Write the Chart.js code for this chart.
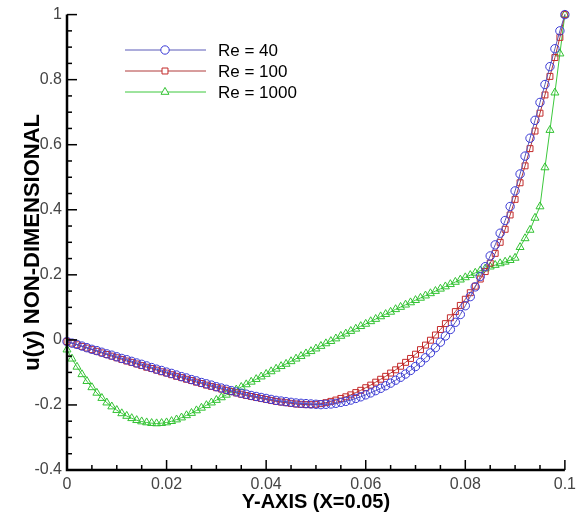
<!DOCTYPE html>
<html>
<head>
<meta charset="utf-8">
<script src="https://cdn.jsdelivr.net/npm/chart.js@4.4.1/dist/chart.umd.min.js"></script>
<style>
    html, body { margin: 0; padding: 0; background: #fff; }
    #wrap { width: 581px; height: 517px; position: relative; }
</style>
</head>
<body>
<div id="wrap"><canvas id="velocityChart"></canvas></div>
<script>
// y positions along the line X=0.05
const yPos = [
    0.000, 0.001, 0.002, 0.003, 0.004, 0.005, 0.006, 0.007, 0.008, 0.009,
    0.010, 0.011, 0.012, 0.013, 0.014, 0.015, 0.016, 0.017, 0.018, 0.019,
    0.020, 0.021, 0.022, 0.023, 0.024, 0.025, 0.026, 0.027, 0.028, 0.029,
    0.030, 0.031, 0.032, 0.033, 0.034, 0.035, 0.036, 0.037, 0.038, 0.039,
    0.040, 0.041, 0.042, 0.043, 0.044, 0.045, 0.046, 0.047, 0.048, 0.049,
    0.050, 0.051, 0.052, 0.053, 0.054, 0.055, 0.056, 0.057, 0.058, 0.059,
    0.060, 0.061, 0.062, 0.063, 0.064, 0.065, 0.066, 0.067, 0.068, 0.069,
    0.070, 0.071, 0.072, 0.073, 0.074, 0.075, 0.076, 0.077, 0.078, 0.079,
    0.080, 0.081, 0.082, 0.083, 0.084, 0.085, 0.086, 0.087, 0.088, 0.089,
    0.090, 0.091, 0.092, 0.093, 0.094, 0.095, 0.096, 0.097, 0.098, 0.099,
    0.100
];

const re40 = [
    -0.005, -0.010, -0.014, -0.019, -0.024, -0.029, -0.033, -0.038, -0.043, -0.047,
    -0.052, -0.057, -0.061, -0.066, -0.071, -0.075, -0.080, -0.085, -0.090, -0.094,
    -0.099, -0.103, -0.108, -0.113, -0.117, -0.122, -0.126, -0.131, -0.135, -0.139,
    -0.144, -0.148, -0.152, -0.156, -0.160, -0.164, -0.167, -0.171, -0.174, -0.177,
    -0.180, -0.183, -0.186, -0.188, -0.190, -0.192, -0.194, -0.195, -0.196, -0.197,
    -0.198, -0.199, -0.198, -0.197, -0.195, -0.192, -0.189, -0.185, -0.180, -0.175,
    -0.169, -0.163, -0.156, -0.149, -0.141, -0.133, -0.124, -0.115, -0.105, -0.094,
    -0.082, -0.069, -0.055, -0.040, -0.024, -0.007, 0.012, 0.032, 0.054, 0.078,
    0.105, 0.133, 0.163, 0.195, 0.225, 0.258, 0.292, 0.328, 0.367, 0.410,
    0.458, 0.510, 0.565, 0.620, 0.675, 0.730, 0.785, 0.840, 0.895, 0.950,
    1.000
];

const re100 = [
    -0.005, -0.010, -0.015, -0.020, -0.025, -0.030, -0.035, -0.040, -0.045, -0.050,
    -0.055, -0.060, -0.065, -0.069, -0.074, -0.079, -0.084, -0.088, -0.093, -0.098,
    -0.102, -0.107, -0.112, -0.116, -0.121, -0.125, -0.130, -0.134, -0.139, -0.143,
    -0.147, -0.151, -0.155, -0.159, -0.163, -0.167, -0.171, -0.174, -0.177, -0.180,
    -0.183, -0.186, -0.189, -0.191, -0.193, -0.195, -0.197, -0.198, -0.199, -0.199,
    -0.198, -0.196, -0.193, -0.189, -0.185, -0.180, -0.175, -0.169, -0.162, -0.155,
    -0.147, -0.139, -0.130, -0.121, -0.112, -0.102, -0.092, -0.081, -0.069, -0.057,
    -0.044, -0.030, -0.016, -0.001, 0.015, 0.032, 0.050, 0.068, 0.087, 0.106,
    0.125, 0.145, 0.165, 0.187, 0.210, 0.236, 0.266, 0.300, 0.340, 0.384,
    0.432, 0.483, 0.535, 0.588, 0.642, 0.697, 0.753, 0.810, 0.868, 0.930,
    1.000
];

const re1000 = [
    -0.030, -0.058, -0.083, -0.106, -0.127, -0.146, -0.163, -0.179, -0.193, -0.205,
    -0.216, -0.226, -0.234, -0.241, -0.247, -0.251, -0.254, -0.256, -0.257, -0.256,
    -0.254, -0.250, -0.245, -0.239, -0.232, -0.225, -0.217, -0.209, -0.201, -0.193,
    -0.185, -0.177, -0.169, -0.161, -0.153, -0.145, -0.137, -0.129, -0.121, -0.113,
    -0.105, -0.097, -0.089, -0.081, -0.074, -0.066, -0.058, -0.050, -0.042, -0.035,
    -0.027, -0.019, -0.011, -0.004, 0.004, 0.012, 0.019, 0.027, 0.034, 0.042,
    0.049, 0.057, 0.064, 0.072, 0.079, 0.086, 0.094, 0.101, 0.108, 0.115,
    0.122, 0.129, 0.136, 0.143, 0.150, 0.157, 0.164, 0.171, 0.178, 0.185,
    0.192, 0.199, 0.206, 0.213, 0.219, 0.225, 0.230, 0.235, 0.240, 0.245,
    0.252, 0.285, 0.312, 0.338, 0.375, 0.410, 0.530, 0.645, 0.760, 0.880,
    1.000
];

const seriesNames = ['Re = 40', 'Re = 100', 'Re = 1000'];
const xTicks = [0, 0.02, 0.04, 0.06, 0.08, 0.1];
const yTicks = [-0.4, -0.2, 0, 0.2, 0.4, 0.6, 0.8, 1];

const colors = ['#3a3ad6', '#c42a2a', '#33c233'];
const lineColors = ['#5a5ab8', '#b03a3a', '#3cc83c'];
const markers = ['circle', 'rect', 'triangle'];
const markerSize = [4.2, 4.2, 4.6];

function toPoints(vals) {
    return yPos.map((x, i) => ({ x: x, y: vals[i] }));
}

// axis lines with inward major / minor ticks, Tecplot style
const axisPlugin = {
    id: 'axisTicks',
    afterDraw(chart) {
        const ctx = chart.ctx;
        const a = chart.chartArea;
        const xs = chart.scales.x;
        const ys = chart.scales.y;
        ctx.save();
        ctx.strokeStyle = '#000';
        ctx.lineWidth = 1.5;
        for (let i = 0; i <= 20; i++) {
            const v = i * 0.005;
            const px = xs.getPixelForValue(v);
            const len = i % 4 === 0 ? 10 : 5;
            ctx.beginPath();
            ctx.moveTo(px, a.bottom);
            ctx.lineTo(px, a.bottom - len);
            ctx.stroke();
        }
        for (let i = 0; i <= 28; i++) {
            const v = -0.4 + i * 0.05;
            const py = ys.getPixelForValue(v);
            const len = i % 4 === 0 ? 10 : 5;
            ctx.beginPath();
            ctx.moveTo(a.left, py);
            ctx.lineTo(a.left + len, py);
            ctx.stroke();
        }
        ctx.lineWidth = 2.5;
        ctx.beginPath();
        ctx.moveTo(a.left, a.top);
        ctx.lineTo(a.left, a.bottom);
        ctx.lineTo(a.right, a.bottom);
        ctx.stroke();
        ctx.restore();
    }
};

// legend: line with one marker in the middle, text on the right
const legendPlugin = {
    id: 'lineLegend',
    afterDraw(chart) {
        const ctx = chart.ctx;
        const rows = [50, 71, 92];
        ctx.save();
        chart.data.datasets.forEach((ds, i) => {
            const y = rows[i];
            ctx.strokeStyle = ds.borderColor;
            ctx.lineWidth = 1;
            ctx.beginPath();
            ctx.moveTo(125, y);
            ctx.lineTo(206, y);
            ctx.stroke();
            ctx.strokeStyle = ds.pointBorderColor;
            ctx.fillStyle = '#fff';
            Chart.helpers.drawPoint(ctx, {
                pointStyle: ds.pointStyle,
                radius: ds.pointRadius,
                borderWidth: 1,
                rotation: 0
            }, 165, y);
            ctx.fillStyle = '#000';
            ctx.font = '17px "Liberation Sans", Arial, sans-serif';
            ctx.textBaseline = 'middle';
            ctx.fillText(ds.label, 218, y + 1);
        });
        ctx.restore();
    }
};

const ctx = document.getElementById('velocityChart').getContext('2d');
const velocityChart = new Chart(ctx, {
    type: 'line',
    data: {
        datasets: [re40, re100, re1000].map((vals, i) => ({
            label: seriesNames[i],
            data: toPoints(vals),
            borderColor: lineColors[i],
            borderWidth: 1,
            pointStyle: markers[i],
            pointRadius: markerSize[i],
            pointBorderColor: colors[i],
            pointBackgroundColor: 'rgba(255,255,255,0)',
            pointBorderWidth: 1,
            tension: 0,
            fill: false,
            clip: false
        }))
    },
    options: {
        responsive: true,
        maintainAspectRatio: false,
        animation: false,
        layout: { padding: { left: 20, right: 14, top: 12, bottom: 0 } },
        plugins: {
            legend: { display: false },
            tooltip: { enabled: false }
        },
        scales: {
            x: {
                type: 'linear',
                min: 0,
                max: 0.1,
                afterBuildTicks: s => { s.ticks = xTicks.map(v => ({ value: v })); },
                afterFit: s => { s.height = 47; },
                grid: { display: false, drawTicks: false },
                border: { display: false },
                ticks: {
                    padding: 5,
                    color: '#444',
                    font: { family: '"Liberation Sans", Arial', size: 16 },
                    maxRotation: 0,
                    callback: v => String(+v.toFixed(2))
                },
                title: {
                    display: true,
                    text: 'Y-AXIS (X=0.05)',
                    color: '#000',
                    font: { family: '"Liberation Sans", Arial', size: 20, weight: 'bold' },
                    padding: { top: 0, bottom: 3 }
                }
            },
            y: {
                type: 'linear',
                min: -0.4,
                max: 1,
                afterBuildTicks: s => { s.ticks = yTicks.map(v => ({ value: v })); },
                afterFit: s => { s.width = 47; },
                grid: { display: false, drawTicks: false },
                border: { display: false },
                ticks: {
                    padding: 5,
                    color: '#444',
                    font: { family: '"Liberation Sans", Arial', size: 16 },
                    callback: v => String(+v.toFixed(1))
                },
                title: {
                    display: true,
                    text: 'u(y) NON-DIMENSIONAL',
                    color: '#000',
                    font: { family: '"Liberation Sans", Arial', size: 22, weight: 'bold' },
                    padding: { top: 0, bottom: 0 }
                }
            }
        }
    },
    plugins: [axisPlugin, legendPlugin]
});
</script>
</body>
</html>
